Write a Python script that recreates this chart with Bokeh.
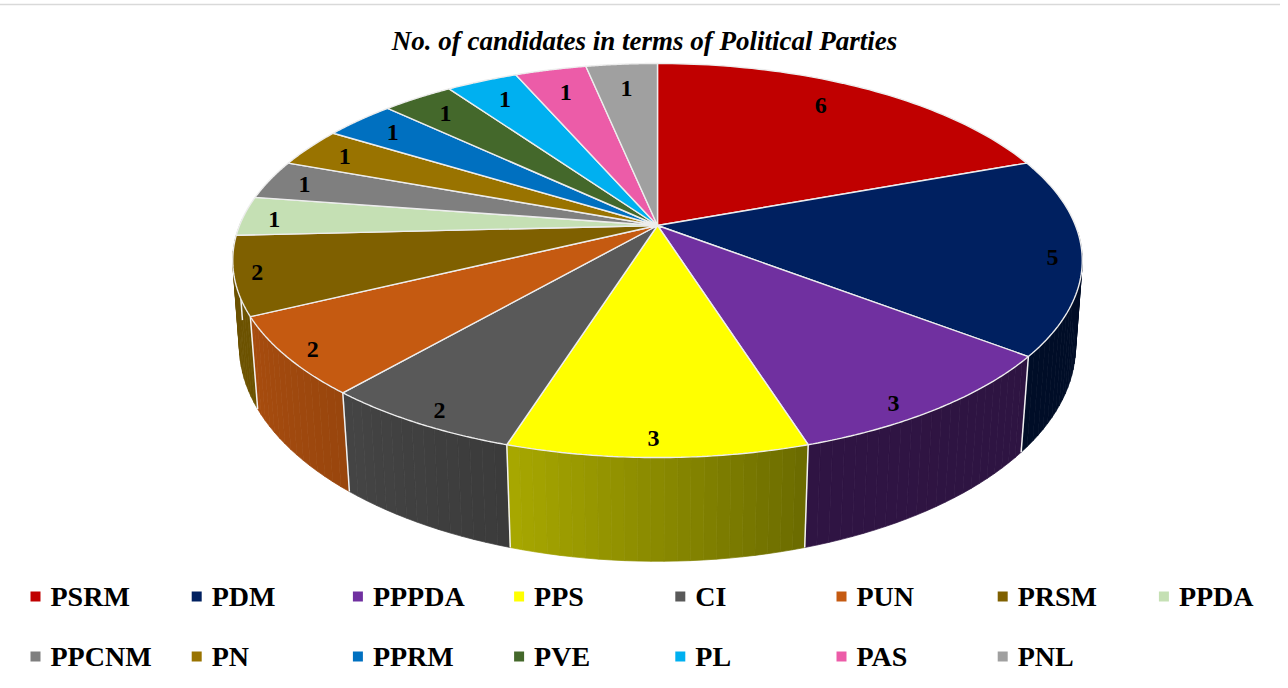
import numpy as np
from bokeh.embed import file_html
from bokeh.models import ColumnDataSource, Range1d
from bokeh.plotting import figure
from bokeh.resources import INLINE
from bokeh.core.properties import value

# ---- data ----
parties = ["PSRM", "PDM", "PPPDA", "PPS", "CI", "PUN", "PRSM", "PPDA",
           "PPCNM", "PN", "PPRM", "PVE", "PL", "PAS", "PNL"]
candidates = [6, 5, 3, 3, 2, 2, 2, 1, 1, 1, 1, 1, 1, 1, 1]
colors = ["#C00000", "#002060", "#7030A0", "#FFFF00", "#595959", "#C55A11", "#7F6000", "#C5E0B4",
          "#7F7F7F", "#997300", "#0070C0", "#44682B", "#00B0F0", "#EC5CA8", "#A0A0A0"]
title = "No. of candidates in terms of Political Parties"

# ---- perspective model of the tilted pie (screen pixels) ----
W, H = 1288, 688
TOP = dict(cx=665, cy=233, a=418, b=190.8, c=0.1777)
BOT = dict(cx=665, cy=317, a=412, b=209, c=0.17)


def project(theta_deg, r, m):
    t = np.radians(theta_deg)
    X, Y = r * np.sin(t), r * np.cos(t)
    d = 1 + m["c"] * Y
    return m["cx"] + m["a"] * X / d, m["cy"] - m["b"] * Y / d


vals = np.array(candidates, dtype=float)
edges = np.concatenate([[0], np.cumsum(vals)]) / vals.sum() * 360
mids = (edges[:-1] + edges[1:]) / 2

# label nudges, pixels from the model position (right, down)
label_nudge = [(-21, 1), (27, 6), (-2, 22), (-4, 17), (-14, 17), (-27, 12), (-34, 4), (-23, 2),
               (-14, -1), (-7, -1), (-2, 0), (0, 1), (3, 2), (3, 5), (1, 6)]
# side-wall brightness as a function of the angle round the pie
shade_at = [90, 162.6, 197.4, 220, 244, 275]
shade_val = [0.40, 0.42, 0.66, 0.77, 0.85, 0.85]


def darker(hex_color, f):
    rgb = [int(hex_color[i:i + 2], 16) for i in (1, 3, 5)]
    return "#%02x%02x%02x" % tuple(int(round(v * f)) for v in rgb)


p = figure(width=W, height=H, x_range=Range1d(0, W), y_range=Range1d(H, 0),
           output_backend="svg", toolbar_location=None, min_border=0,
           margin=(-8, 0, 0, -8))
p.axis.visible = False
p.grid.visible = False
p.outline_line_color = None
p.background_fill_color = "white"
p.border_fill_color = "white"

# frame
p.line([6, 6, W], [H, 12, 12], line_color="#D9D9D9", line_width=1.6)

# side wall strips, from both far ends towards the front
strips = []
for i, col in enumerate(colors):
    lo, hi = max(edges[i], 92), min(edges[i + 1], 272)
    if hi <= lo:
        continue
    n = max(int((hi - lo) / 1.5), 1)
    th = np.linspace(lo, hi, n + 1)
    for a, b in zip(th[:-1], th[1:]):
        strips.append((abs((a + b) / 2 - 180), a, b, darker(col, np.interp((a + b) / 2, shade_at, shade_val))))
strips.sort(key=lambda s: -s[0])
xs, ys, cs = [], [], []
for _, a, b, c in strips:
    x1, y1 = project(a, 1, TOP)
    x2, y2 = project(b, 1, TOP)
    x3, y3 = project(b, 1, BOT)
    x4, y4 = project(a, 1, BOT)
    xs.append([x1, x2, x3, x4])
    ys.append([y1, y2, y3, y4])
    cs.append(c)
p.patches(xs="xs", ys="ys", fill_color="c", line_color="c", line_width=0.7,
          source=ColumnDataSource(dict(xs=xs, ys=ys, c=cs)))

# white verticals between the side walls
for e in edges:
    if 100 < e < 270:
        x1, y1 = project(e, 1, TOP)
        x2, y2 = project(e, 1, BOT)
        p.line([x1, x2], [y1, y2], line_color="#F2F2F2", line_width=1.5)

# top faces
xs, ys = [], []
for i in range(len(vals)):
    th = np.linspace(edges[i], edges[i + 1], 60)
    rx, ry = project(th, 1, TOP)
    xs.append([TOP["cx"]] + list(rx))
    ys.append([TOP["cy"]] + list(ry))
p.patches(xs="xs", ys="ys", fill_color="c", line_color="#EDEDED", line_width=1.4,
          source=ColumnDataSource(dict(xs=xs, ys=ys, c=colors)))

# data labels
lx, ly = project(mids, 0.87, TOP)
lx = lx + np.array([n[0] for n in label_nudge])
ly = ly + np.array([n[1] for n in label_nudge])
p.text(x="x", y="y", text="t", text_align="center", text_baseline="middle",
       text_font=value("Liberation Serif"), text_font_style="bold", text_font_size="24px",
       text_color="#000000",
       source=ColumnDataSource(dict(x=lx, y=ly, t=[str(v) for v in candidates])))

# title
p.text(x=[652], y=[48], text=[title], text_align="center", text_baseline="middle",
       text_font=value("Liberation Serif"), text_font_style="bold italic", text_font_size="27px",
       text_color="#000000")

# legend
col_x = 43 + 161.2 * (np.arange(len(parties)) % 8)
row_y = np.where(np.arange(len(parties)) < 8, 604, 664)
p.scatter(col_x, row_y, marker="square", size=10, fill_color=colors, line_color=None)
p.text(x="x", y="y", text="t", text_align="left", text_baseline="middle",
       text_font=value("Liberation Serif"), text_font_style="bold", text_font_size="28px",
       text_color="#000000",
       source=ColumnDataSource(dict(x=col_x + 15, y=row_y, t=parties)))

open("out.html", "w").write(file_html(p, INLINE))
